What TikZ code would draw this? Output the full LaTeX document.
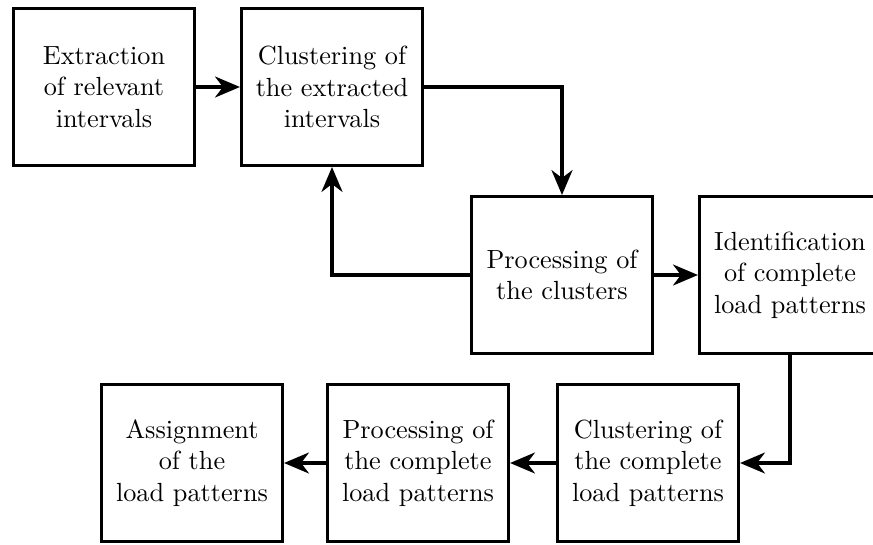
\documentclass[tikz,border=0pt]{standalone}
\usetikzlibrary{arrows.meta}
\begin{document}
\begin{tikzpicture}[x=0.381pt,y=-0.381pt,
  stepbox/.style={draw,line width=1.15pt,minimum width=69pt,minimum height=59.8pt,align=center,inner sep=0pt},
  conn/.style={line width=1.15pt,-{Stealth[length=9.5pt,width=8pt,inset=3pt]}}]
\useasboundingbox (0,0) rectangle (873,544);
\node[stepbox] (b1) at (104,87) {Extraction\\of relevant\\intervals};
\node[stepbox] (b2) at (332,87) {Clustering of\\the extracted\\intervals};
\node[stepbox] (b3) at (562,275) {Processing of\\the clusters};
\node[stepbox] (b4) at (790,275) {Identification\\of complete\\load patterns};
\node[stepbox] (b5) at (648,463) {Clustering of\\the complete\\load patterns};
\node[stepbox] (b6) at (418,463) {Processing of\\the complete\\load patterns};
\node[stepbox] (b7) at (192,463) {Assignment\\of the\\load patterns};
\draw[conn] (b1) -- (b2);
\draw[conn] (b2.east) -| (b3.north);
\draw[conn] (b3.west) -| (b2.south);
\draw[conn] (b3) -- (b4);
\draw[conn] (b4.south) |- (b5.east);
\draw[conn] (b5) -- (b6);
\draw[conn] (b6) -- (b7);
\end{tikzpicture}
\end{document}
